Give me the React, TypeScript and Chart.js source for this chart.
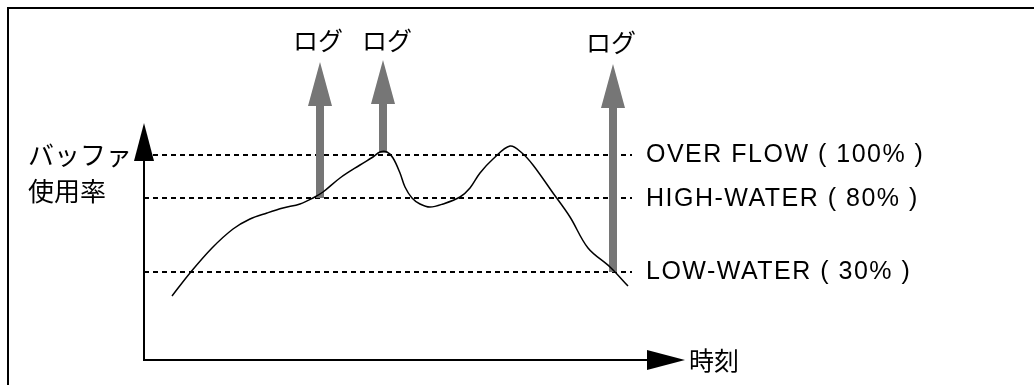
import React, { useEffect, useRef } from "react";
import { Chart, registerables } from "chart.js";

Chart.register(...registerables);

// Curve: time (x) vs buffer usage level (y), in diagram units
const curveX = [28, 46, 68, 89, 106, 123, 139, 156, 169, 179, 196, 216, 229, 236, 243, 249, 256, 261, 268, 276, 286, 299, 316, 326, 336, 349, 366, 378, 389, 409, 426, 444, 466, 484];
const curveY = [64, 87, 112, 131, 141, 147, 152, 156, 162, 168, 182, 195, 203, 208, 208, 202, 187, 173, 162, 156, 153, 156, 163, 172, 187, 201, 214, 207, 195, 167, 143, 112, 93, 74];

// Threshold levels
const levelNames = ["OVER FLOW ( 100% )", "HIGH-WATER ( 80% )", "LOW-WATER ( 30% )"];
const levelValues = [205, 162, 88];
const levelBaselines = [198, 154, 81];
const levelEndX = 488;
const levelLabelX = 502;

// Log arrows
const logLabel = "ログ";
const logX = [176, 239, 469];
const logFrom = [162, 207, 88];
const logTip = [298, 300, 296];
const logLabelX = [174, 243, 467];
const logLabelY = [320, 320, 318];

// Axes
const yAxisEnd = 237;
const xAxisEnd = 541;
const yAxisLabel = ["バッファ", "使用率"];
const yAxisLabelPos = [[-116, 205], [-116, 169]];
const xAxisLabel = "時刻";
const xAxisLabelPos = [545, 0];

const GRAY = "#767676";
const HEAD_LEN = 44;
const HEAD_HALF = 12;
const AX_HEAD_LEN = 38;
const AX_HEAD_HALF = 10;

const decorPlugin = {
  id: "decor",
  beforeDatasetsDraw(chart: any) {
    const ctx = chart.ctx;
    ctx.save();
    ctx.strokeStyle = "#000";
    ctx.lineWidth = 2;
    ctx.beginPath();
    ctx.moveTo(8, chart.height + 2);
    ctx.lineTo(8, 8);
    ctx.lineTo(chart.width + 2, 8);
    ctx.stroke();
    ctx.restore();
  },
  afterDatasetsDraw(chart: any) {
    const ctx = chart.ctx;
    const xs = chart.scales.x;
    const ys = chart.scales.y;
    const px = (v: number) => xs.getPixelForValue(v);
    const py = (v: number) => ys.getPixelForValue(v);
    ctx.save();
    // gray arrowheads
    ctx.fillStyle = GRAY;
    logX.forEach((x, i) => {
      const cx = px(x);
      const ty = py(logTip[i]);
      ctx.beginPath();
      ctx.moveTo(cx, ty);
      ctx.lineTo(cx + HEAD_HALF, ty + HEAD_LEN);
      ctx.lineTo(cx - HEAD_HALF, ty + HEAD_LEN);
      ctx.closePath();
      ctx.fill();
    });
    // axis arrowheads
    ctx.fillStyle = "#000";
    const ox = px(0);
    const oy = py(0);
    const ty = py(yAxisEnd);
    ctx.beginPath();
    ctx.moveTo(ox, ty);
    ctx.lineTo(ox + AX_HEAD_HALF, ty + AX_HEAD_LEN);
    ctx.lineTo(ox - AX_HEAD_HALF, ty + AX_HEAD_LEN);
    ctx.closePath();
    ctx.fill();
    const tx = px(xAxisEnd);
    ctx.beginPath();
    ctx.moveTo(tx, oy);
    ctx.lineTo(tx - AX_HEAD_LEN, oy - AX_HEAD_HALF);
    ctx.lineTo(tx - AX_HEAD_LEN, oy + AX_HEAD_HALF);
    ctx.closePath();
    ctx.fill();

    // level labels
    ctx.fillStyle = "#000";
    ctx.font = "25px 'Liberation Sans', Arial, sans-serif";
    (ctx as any).letterSpacing = "1.5px";
    ctx.textAlign = "left";
    ctx.textBaseline = "alphabetic";
    levelNames.forEach((t, i) => {
      ctx.fillText(t, px(levelLabelX), py(levelBaselines[i]));
    });
    (ctx as any).letterSpacing = "0px";

    // Japanese labels
    ctx.font = "25px 'Noto Sans CJK JP', sans-serif";
    ctx.textBaseline = "middle";
    ctx.textAlign = "center";
    logLabelX.forEach((x, i) => {
      ctx.fillText(logLabel, px(x), py(logLabelY[i]));
    });
    ctx.textAlign = "left";
    ctx.font = "26px 'Noto Sans CJK JP', sans-serif";
    yAxisLabel.forEach((t, i) => {
      ctx.fillText(t, px(yAxisLabelPos[i][0]), py(yAxisLabelPos[i][1]));
    });
    ctx.font = "25px 'Noto Sans CJK JP', sans-serif";
    ctx.fillText(xAxisLabel, px(xAxisLabelPos[0]), py(xAxisLabelPos[1]));
    ctx.restore();
  },
};

export default function App() {
  const ref = useRef<HTMLCanvasElement | null>(null);
  useEffect(() => {
    if (!ref.current) return;
    const curve = curveX.map((x, i) => ({ x, y: curveY[i] }));
    const datasets: any[] = [
      {
        data: curve,
        borderColor: "#000",
        borderWidth: 1.5,
        tension: 0.35,
        pointRadius: 0,
        order: 0,
      },
    ];
    logX.forEach((x, i) => {
      datasets.push({
        data: [
          { x, y: logFrom[i] },
          { x, y: logTip[i] - HEAD_LEN + 1 },
        ],
        borderColor: GRAY,
        borderWidth: 8,
        borderCapStyle: "butt",
        pointRadius: 0,
        order: 1,
      });
    });
    levelValues.forEach((v) => {
      datasets.push({
        data: [
          { x: 0, y: v },
          { x: levelEndX, y: v },
        ],
        borderColor: "#000",
        borderWidth: 2,
        borderDash: [5, 4],
        pointRadius: 0,
        order: 2,
      });
    });
    datasets.push({
      data: [
        { x: 0, y: yAxisEnd - AX_HEAD_LEN + 1 },
        { x: 0, y: 0 },
        { x: xAxisEnd - AX_HEAD_LEN + 1, y: 0 },
      ],
      borderColor: "#000",
      borderWidth: 2,
      pointRadius: 0,
      tension: 0,
      order: 3,
    });
    const chart = new Chart(ref.current, {
      type: "line",
      data: { datasets },
      options: {
        animation: false,
        responsive: false,
        layout: { padding: 0 },
        plugins: { legend: { display: false }, tooltip: { enabled: false } },
        scales: {
          x: { type: "linear", min: -144, max: 890, display: false },
          y: { type: "linear", min: -25, max: 360, display: false },
        },
      },
      plugins: [decorPlugin],
    });
    return () => chart.destroy();
  }, []);
  return (
    <div style={{ position: "absolute", left: 0, top: 0, width: 1034, height: 385, background: "#fff" }}>
      <canvas ref={ref} width={1034} height={385} style={{ display: "block" }} />
    </div>
  );
}
